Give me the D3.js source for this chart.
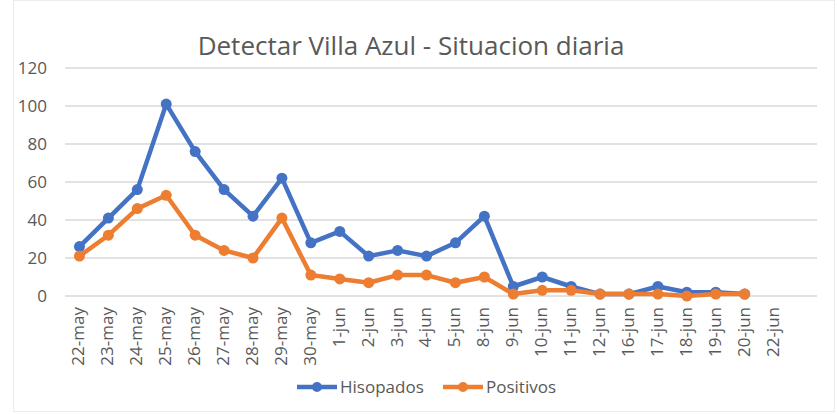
<!DOCTYPE html>
<html>
<head>
<meta charset="utf-8">
<script src="https://cdn.jsdelivr.net/npm/d3@7"></script>
<style>
  html, body { margin: 0; padding: 0; background: #fff; }
  svg { display: block; }
  text { font-family: "Open Sans", "Noto Sans", sans-serif; fill: #595959; }
</style>
</head>
<body>
<svg id="chart" width="837" height="414"></svg>
<script>
const categories = ["22-may","23-may","24-may","25-may","26-may","27-may","28-may","29-may","30-may",
  "1-jun","2-jun","3-jun","4-jun","5-jun","8-jun","9-jun","10-jun","11-jun","12-jun","16-jun",
  "17-jun","18-jun","19-jun","20-jun","22-jun"];
const hisopados = [26,41,56,101,76,56,42,62,28,34,21,24,21,28,42,5,10,5,1,1,5,2,2,1,null];
const positivos = [21,32,46,53,32,24,20,41,11,9,7,11,11,7,10,1,3,3,1,1,1,0,1,1,null];
const yTicks = [0,20,40,60,80,100,120];
const seriesNames = ["Hisopados","Positivos"];
const colors = ["#4472C4","#ED7D31"];
const title = "Detectar Villa Azul - Situacion diaria";

const W = 837, H = 414;
const plot = {left: 65, right: 817, top: 68, bottom: 296};
const svg = d3.select("#chart");

// faint chart border
svg.append("rect").attr("x", 13.5).attr("y", 0.5).attr("width", 821).attr("height", 411)
  .attr("fill", "none").attr("stroke", "#ececec").attr("stroke-width", 1);

const step = (plot.right - plot.left) / (categories.length + 1);
const x = d3.scaleBand().domain(categories)
  .range([plot.left, plot.left + step * categories.length]).paddingInner(0).paddingOuter(0);
const y = d3.scaleLinear().domain([0, 120]).range([plot.bottom, plot.top]);

// gridlines
svg.append("g").selectAll("line").data(yTicks).join("line")
  .attr("x1", plot.left).attr("x2", plot.right)
  .attr("y1", d => y(d)).attr("y2", d => y(d))
  .attr("stroke", "#d9d9d9").attr("stroke-width", 1.5);

// y axis labels
const yAxis = d3.axisLeft(y).tickValues(yTicks).tickSize(0).tickPadding(0);
const gy = svg.append("g").attr("transform", `translate(47,0)`).call(yAxis);
gy.select(".domain").remove();
gy.selectAll("text").attr("font-size", 17).style("fill", "#595959")
  .style("font-family", '"Open Sans", sans-serif');

// x axis labels
const xAxis = d3.axisBottom(x).tickSize(0).tickPadding(0);
const gx = svg.append("g").attr("transform", `translate(0,${plot.bottom})`).call(xAxis);
gx.select(".domain").remove();
gx.selectAll("text")
  .attr("font-size", 17)
  .style("fill", "#595959")
  .style("font-family", '"Open Sans", sans-serif')
  .attr("text-anchor", "end")
  .attr("transform", "rotate(-90)")
  .attr("x", -11).attr("y", -1).attr("dy", "0.35em");

// lines
const series = [hisopados, positivos];
const line = d3.line()
  .defined(d => d.v !== null)
  .x(d => x(d.c) + x.bandwidth() / 2)
  .y(d => y(d.v));

series.forEach((vals, i) => {
  const data = categories.map((c, j) => ({c, v: vals[j]}));
  svg.append("path").datum(data)
    .attr("fill", "none").attr("stroke", colors[i]).attr("stroke-width", 4.5)
    .attr("stroke-linejoin", "round").attr("d", line);
  svg.append("g").selectAll("circle").data(data.filter(d => d.v !== null)).join("circle")
    .attr("cx", d => x(d.c) + x.bandwidth() / 2).attr("cy", d => y(d.v))
    .attr("r", 5.5).attr("fill", colors[i]);
});

// title
svg.append("text").attr("x", 411).attr("y", 55).attr("text-anchor", "middle")
  .attr("font-size", 26).text(title);

// legend
const legX = [297, 443];
seriesNames.forEach((n, i) => {
  const g = svg.append("g").attr("transform", `translate(${legX[i]},387)`);
  g.append("line").attr("x1", 0).attr("x2", 40).attr("y1", 0).attr("y2", 0)
    .attr("stroke", colors[i]).attr("stroke-width", 4.5);
  g.append("circle").attr("cx", 20).attr("cy", 0).attr("r", 5).attr("fill", colors[i]);
  g.append("text").attr("x", 43).attr("y", 0).attr("dy", "0.35em")
    .attr("font-size", 17).text(n);
});
</script>
</body>
</html>
